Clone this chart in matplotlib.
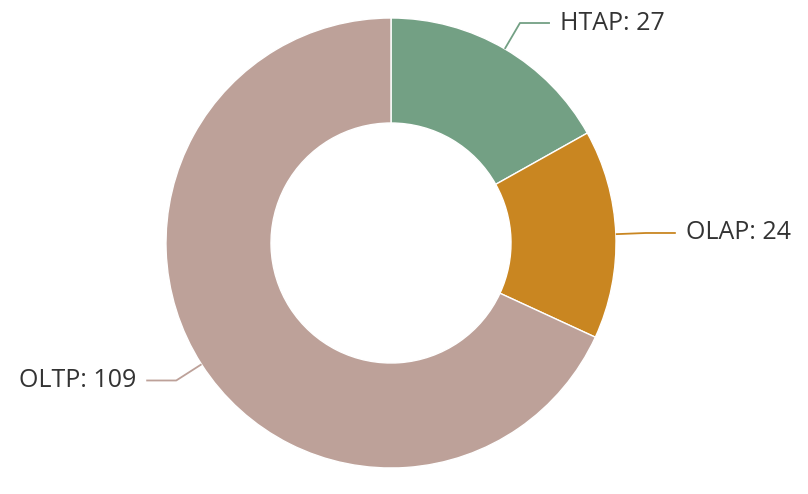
import numpy as np
import matplotlib
matplotlib.use("Agg")
import matplotlib.pyplot as plt

categories = ["HTAP", "OLAP", "OLTP"]
values = [27, 24, 109]
colors = ["#73a084", "#c98621", "#bda199"]

W, H = 808, 494
fig = plt.figure(figsize=(W / 100, H / 100), dpi=100)
ax = fig.add_axes([0, 0, 1, 1])
ax.set_xlim(0, W)
ax.set_ylim(0, H)
ax.set_aspect("equal")
ax.axis("off")

cx, cy = 391, H - 243
R, r_in = 225, 120

wedges, _ = ax.pie(values, colors=colors, startangle=90, counterclock=False,
                   radius=R, center=(cx, cy),
                   wedgeprops=dict(width=R - r_in, edgecolor="white", linewidth=1))
ax.set_xlim(0, W)
ax.set_ylim(0, H)

total = sum(values)
cum = 0
for cat, v, col in zip(categories, values, colors):
    mid = (cum + v / 2) / total * 2 * np.pi
    cum += v
    sx, sy = np.sin(mid), np.cos(mid)
    p0 = (cx + R * sx, cy + R * sy)
    p1 = (cx + (R + 30) * sx, cy + (R + 30) * sy)
    side = 1 if sx >= 0 else -1
    p2 = (p1[0] + side * 30, p1[1])
    ax.plot([p0[0], p1[0], p2[0]], [p0[1], p1[1], p2[1]], color=col, lw=1.3,
            solid_capstyle="butt")
    ax.text(p2[0] + side * 10, p2[1], f"{cat}: {v}", ha="left" if side > 0 else "right",
            va="center", fontsize=18, color="#333333", family=["Open Sans", "DejaVu Sans"])

fig.savefig("out.png", dpi=100)
